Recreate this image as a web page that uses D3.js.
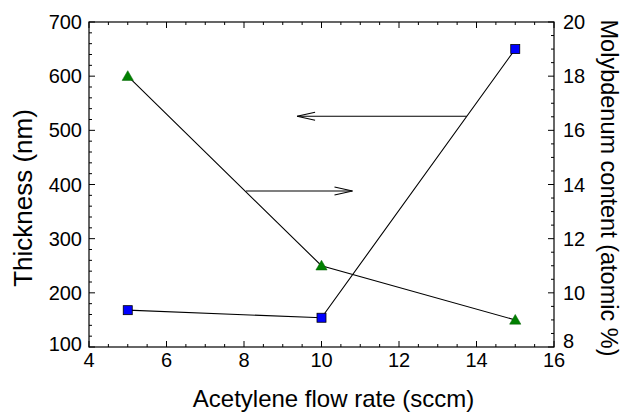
<!DOCTYPE html>
<html><head><meta charset="utf-8">
<script src="https://cdn.jsdelivr.net/npm/d3@7"></script>
<style>body{margin:0;background:#fff}svg{display:block}text{font-family:"Liberation Sans",Arial,sans-serif}</style>
</head><body><svg id="c" width="624" height="412"></svg>
<script>
const flowRates = [5, 10, 15];
const thickness = [168, 154, 650];
const moContent = [18, 11, 9];
const xTicks = [4, 6, 8, 10, 12, 14, 16];
const leftTicks = [100, 200, 300, 400, 500, 600, 700];
const rightTicks = [8, 10, 12, 14, 16, 18, 20];
// arrows: [x1, y1 (thickness units), x2]
const arrowLeft = [13.75, 526, 9.37];
const arrowRight = [8.05, 388, 10.8];

const svg = d3.select("#c");
const L = 89, R = 554, T = 22, B = 347;
const x = d3.scaleLinear().domain([4, 16]).range([L, R]);
const yL = d3.scaleLinear().domain([100, 700]).range([B, T]);
const yR = d3.scaleLinear().domain([8, 20]).range([B, T]);

function minorTicks(lo, hi, step) { return d3.range(lo, hi + step / 2, step); }

// frame
svg.append("rect").attr("x", L).attr("y", T).attr("width", R - L).attr("height", B - T)
  .attr("fill", "none").attr("stroke", "#000").attr("stroke-width", 1.2);

const g = svg.append("g").attr("stroke", "#000").attr("stroke-width", 1);
minorTicks(4, 16, 0.5).forEach(v => {
  const major = Math.abs(v - Math.round(v / 2) * 2) < 1e-6;
  const len = major ? 6 : 3;
  g.append("line").attr("x1", x(v)).attr("x2", x(v)).attr("y1", B).attr("y2", B - len);
  g.append("line").attr("x1", x(v)).attr("x2", x(v)).attr("y1", T).attr("y2", T + len);
});
minorTicks(100, 700, 20).forEach(v => {
  const major = Math.abs(v % 100) < 1e-6;
  const len = major ? 6 : 3;
  g.append("line").attr("x1", L).attr("x2", L + len).attr("y1", yL(v)).attr("y2", yL(v));
});
minorTicks(8, 20, 0.5).forEach(v => {
  const major = Math.abs(v % 2) < 1e-6;
  const len = major ? 6 : 3;
  g.append("line").attr("x1", R).attr("x2", R - len).attr("y1", yR(v)).attr("y2", yR(v));
});

// tick labels
const fs = 20;
svg.selectAll(".xt").data(xTicks).enter().append("text")
  .attr("x", d => x(d)).attr("y", 367).attr("text-anchor", "middle")
  .attr("font-size", fs).text(d => d);
svg.selectAll(".lt").data(leftTicks).enter().append("text")
  .attr("x", L - 7).attr("y", d => yL(d) + 7 - (d === 100 ? 3 : 0)).attr("text-anchor", "end")
  .attr("font-size", fs).text(d => d);
svg.selectAll(".rt").data(rightTicks).enter().append("text")
  .attr("x", R + 9).attr("y", d => yR(d) + 7 - (d === 8 ? 6 : 0)).attr("text-anchor", "start")
  .attr("font-size", fs).text(d => d);

// axis titles
svg.append("text").attr("x", (L + R) / 2 + 12).attr("y", 407).attr("text-anchor", "middle")
  .attr("font-size", 24).text("Acetylene flow rate (sccm)");
svg.append("text").attr("transform", `translate(32,198) rotate(-90)`)
  .attr("text-anchor", "middle").attr("font-size", 26).text("Thickness (nm)");
svg.append("text").attr("transform", `translate(601,188) rotate(90)`)
  .attr("text-anchor", "middle").attr("font-size", 23.5).text("Molybdenum content (atomic %)");

// lines
const idx = d3.range(flowRates.length);
svg.append("path").attr("fill", "none").attr("stroke", "#000").attr("stroke-width", 1.1)
  .attr("d", d3.line().x(i => x(flowRates[i])).y(i => yL(thickness[i]))(idx));
svg.append("path").attr("fill", "none").attr("stroke", "#000").attr("stroke-width", 1.1)
  .attr("d", d3.line().x(i => x(flowRates[i])).y(i => yR(moContent[i]))(idx));

// markers
const s = 9;
svg.selectAll(".sq").data(idx).enter().append("rect")
  .attr("x", i => x(flowRates[i]) - s / 2).attr("y", i => yL(thickness[i]) - s / 2)
  .attr("width", s).attr("height", s).attr("fill", "#0000ff").attr("stroke", "#000").attr("stroke-width", 0.8);
const tri = d3.symbol().type(d3.symbolTriangle).size(55);
svg.selectAll(".tr").data(idx).enter().append("path")
  .attr("transform", i => `translate(${x(flowRates[i])},${yR(moContent[i]) + 1})`)
  .attr("d", tri).attr("fill", "#008000").attr("stroke", "#006000").attr("stroke-width", 0.5);

// arrows
function arrow(a) {
  const x1 = x(a[0]), y1 = yL(a[1]), x2 = x(a[2]);
  const dir = Math.sign(x2 - x1);
  const ag = svg.append("g").attr("stroke", "#000").attr("stroke-width", 1.1).attr("fill", "none");
  ag.append("line").attr("x1", x1).attr("x2", x2).attr("y1", y1).attr("y2", y1);
  ag.append("path").attr("d", `M${x2 - dir * 18},${y1 - 4}L${x2},${y1}L${x2 - dir * 18},${y1 + 4}`);
}
arrow(arrowLeft);
arrow(arrowRight);
</script></body></html>
